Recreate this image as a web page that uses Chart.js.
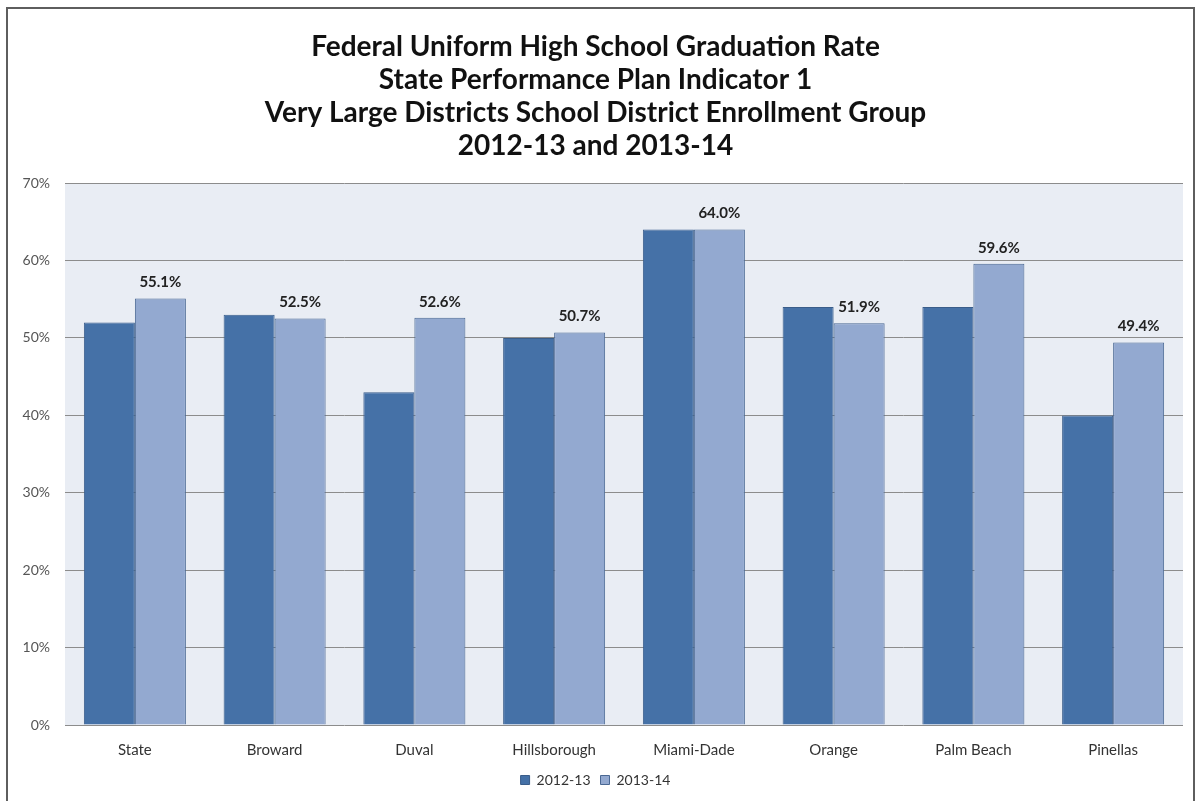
<!DOCTYPE html>
<html>
<head>
<meta charset="utf-8">
<title>Federal Uniform High School Graduation Rate</title>
<script src="https://cdn.jsdelivr.net/npm/chart.js@4/dist/chart.umd.min.js"></script>
<style>
  html, body { margin: 0; padding: 0; background: #fff; }
  #wrap { width: 1200px; height: 801px; }
</style>
</head>
<body>
<div id="wrap"><canvas id="chart" width="1200" height="801"></canvas></div>
<script>
// Graduation rates by district, two school years
const districts = ['State', 'Broward', 'Duval', 'Hillsborough', 'Miami-Dade', 'Orange', 'Palm Beach', 'Pinellas'];
const rate2012 = [52, 53, 43, 50, 64, 54, 54, 40];
const rate2013 = [55.1, 52.5, 52.6, 50.7, 64.0, 51.9, 59.6, 49.4];
const yTicks = [0, 10, 20, 30, 40, 50, 60, 70];

const titleLines = [
  'Federal Uniform High School Graduation Rate',
  'State Performance Plan Indicator 1',
  'Very Large Districts School District Enrollment Group',
  '2012-13 and 2013-14'
];

const FONT = 'Lato, "Open Sans", sans-serif';

// outer frame + light plot background
const frameAndBackground = {
  id: 'frameAndBackground',
  beforeDraw(chart) {
    const { ctx, chartArea } = chart;
    ctx.save();
    ctx.strokeStyle = '#5e5e5e';
    ctx.lineWidth = 2;
    ctx.strokeRect(7, 8, 1187, 800);
    ctx.fillStyle = '#e9edf4';
    ctx.fillRect(chartArea.left, chartArea.top, chartArea.right - chartArea.left, chartArea.bottom - chartArea.top);
    ctx.restore();
  }
};

// value labels above the 2013-14 bars
const valueLabels = {
  id: 'valueLabels',
  afterDatasetsDraw(chart) {
    const { ctx } = chart;
    const meta = chart.getDatasetMeta(1);
    ctx.save();
    ctx.font = 'bold 15px ' + FONT;
    ctx.fillStyle = '#222';
    ctx.textAlign = 'center';
    ctx.textBaseline = 'middle';
    meta.data.forEach((bar, i) => {
      ctx.fillText(rate2013[i].toFixed(1) + '%', bar.x, bar.y - 16);
    });
    ctx.restore();
  }
};

new Chart(document.getElementById('chart'), {
  type: 'bar',
  data: {
    labels: districts,
    datasets: [
      {
        label: '2012-13',
        data: rate2012,
        backgroundColor: '#4571a7',
        borderColor: '#3a5d8a',
        borderWidth: 1,
        categoryPercentage: 0.73,
        barPercentage: 1.0
      },
      {
        label: '2013-14',
        data: rate2013,
        backgroundColor: '#93a9d0',
        borderColor: '#4a6893',
        borderWidth: 1,
        categoryPercentage: 0.73,
        barPercentage: 1.0
      }
    ]
  },
  options: {
    responsive: false,
    animation: false,
    layout: { padding: { left: 8, right: 17, top: 0, bottom: 4 } },
    scales: {
      x: {
        grid: { display: false },
        border: { display: false },
        afterFit(scale) { scale.height = 38; },
        ticks: {
          color: '#333',
          font: { family: FONT, size: 15 },
          padding: 8,
          maxRotation: 0
        }
      },
      y: {
        min: 0,
        max: 70,
        afterBuildTicks(scale) {
          scale.ticks = yTicks.map(v => ({ value: v }));
        },
        afterFit(scale) { scale.width = 57; },
        grid: { color: '#8c8c8c', lineWidth: 1, drawTicks: false },
        border: { display: false },
        ticks: {
          color: '#555',
          font: { family: FONT, size: 14 },
          padding: 15,
          callback: v => v + '%'
        }
      }
    },
    plugins: {
      title: {
        display: true,
        text: titleLines,
        color: '#111',
        font: { family: FONT, size: 28, weight: 'bold', lineHeight: 1.18 },
        padding: { top: 30, bottom: 21 }
      },
      legend: {
        position: 'bottom',
        labels: {
          color: '#333',
          font: { family: FONT, size: 14 },
          boxWidth: 9,
          boxHeight: 9,
          padding: 10
        }
      },
      tooltip: { enabled: false }
    }
  },
  plugins: [frameAndBackground, valueLabels]
});
</script>
</body>
</html>
